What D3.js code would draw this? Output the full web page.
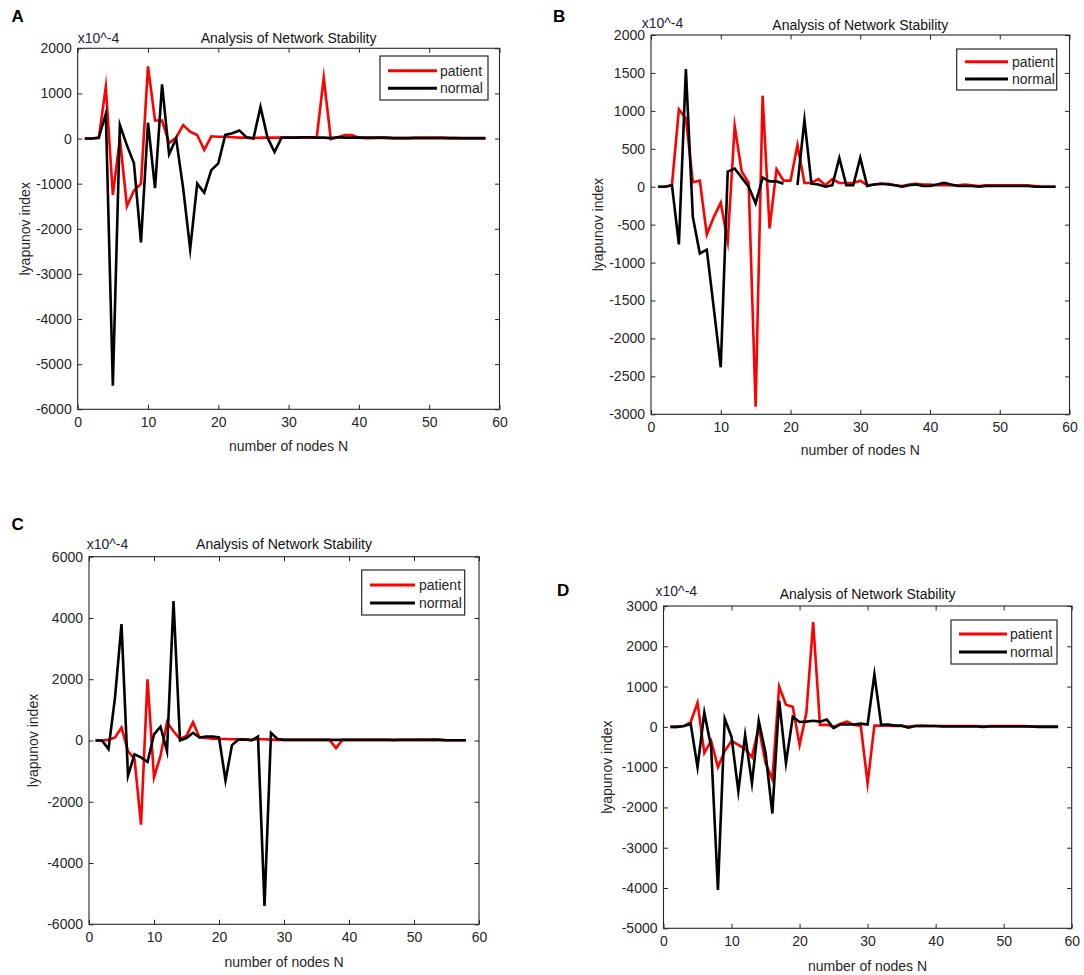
<!DOCTYPE html>
<html>
<head>
<meta charset="utf-8">
<script src="https://cdn.jsdelivr.net/npm/d3@7"></script>
<style>
  html, body { margin: 0; padding: 0; background: #fff; }
  text { font-family: "Liberation Sans", Arial, Helvetica, sans-serif; }
</style>
</head>
<body>
<svg id="chart" width="1084" height="975"></svg>
<script>
// ---------- data ----------
const nodes = [1,2,3,4,5,6,7,8,9,10,11,12,13,14,15,16,17,18,19,20,21,22,23,24,25,26,27,28,29,30,
  31,32,33,34,35,36,37,38,39,40,41,42,43,44,45,46,47,48,49,50,51,52,53,54,55,56,57,58];

const seriesNames = ["patient", "normal"];
const xTicks = [0, 10, 20, 30, 40, 50, 60];
const titleText = "Analysis of Network Stability";
const xLabelText = "number of nodes N";
const yLabelText = "lyapunov index";
const exponentText = "x10^-4";

// Panel A
const aPatient = [0,0,10,1150,-1250,0,-1500,-1150,-1000,1600, 400,400,-100,20,300,150,80,-250,50,40,
  40,30,20,20,10,20,20,20,20,20, 20,20,20,20,1350,-10,30,80,80,20, 10,10,20,10,10,10,10,20,20,20,
  20,20,10,10,0,0,0,0];
const aNormal = [0,0,20,550,-5480,300,-150,-550,-2300,350, -1100,1200,-350,0,-1100,-2450,-1000,-1200,-700,-550,
  80,120,180,30,0,700,20,-300,20,20, 20,30,30,20,20,10,30,20,20,20, 20,20,20,20,10,10,10,10,10,10,
  10,10,10,10,10,10,10,10];
const aYTicks = [-6000,-5000,-4000,-3000,-2000,-1000,0,1000,2000];

// Panel B
const bPatient = [0,0,20,1020,900,60,80,-630,-400,-210, -720,800,200,50,-2900,1200,-550,230,80,80,
  550,50,50,100,20,100,50,50,50,80, 20,30,40,40,20,10,30,40,30,30, 20,20,20,20,30,20,10,20,20,20,
  20,20,20,20,10,0,0,0];
const bNormal = [0,0,20,-760,1550,-400,-880,-830,-1600,-2380, 200,240,120,0,-220,120,70,70,40,null,
  20,880,40,30,0,20,380,20,20,380, 10,30,40,30,20,0,20,30,10,10, 30,50,30,10,10,10,0,10,10,10,
  10,10,10,10,0,0,0,0];
const bYTicks = [-3000,-2500,-2000,-1500,-1000,-500,0,500,1000,1500,2000];

// Panel C
const cPatient = [0,0,20,100,420,-350,-600,-2750,2000,-1200, -500,600,300,50,150,600,100,80,60,50,
  50,40,40,40,30,40,40,30,20,20, 20,20,20,20,20,20,20,-250,20,20, 20,20,20,20,20,20,10,20,20,20,
  30,20,20,20,10,10,10,10];
const cNormal = [0,0,-280,1400,3800,-1150,-450,-550,-700,200, 450,-350,4550,0,80,250,100,130,130,100,
  -1300,-150,30,30,0,130,-5400,250,50,20, 20,20,20,20,20,20,20,20,20,20, 20,20,20,20,20,20,20,20,20,20,
  20,20,30,20,10,10,10,10];
const cYTicks = [-6000,-4000,-2000,0,2000,4000,6000];

// Panel D
const dPatient = [0,0,20,120,600,-650,-350,-1000,-600,-350, -450,-550,-750,0,-900,-1300,1000,550,500,-450,
  350,2600,50,50,0,80,130,50,20,-1400, 30,30,30,20,20,10,20,30,20,20, 20,20,20,20,20,20,10,20,20,20,
  20,20,20,10,10,10,10,10];
const dNormal = [0,0,20,70,-1000,350,-500,-4050,200,-250, -1600,-200,-1400,150,-650,-2150,650,-900,250,120,
  130,150,130,180,-30,60,60,60,80,60, 1300,50,60,30,30,-20,20,20,20,20, 10,10,10,10,10,10,0,10,10,10,
  10,10,10,10,0,0,0,0];
const dYTicks = [-5000,-4000,-3000,-2000,-1000,0,1000,2000,3000];

// ---------- layout ----------
const panels = [
  { letter: "A", patient: aPatient, normal: aNormal, yTicks: aYTicks,
    box: {l: 77.7, r: 499.5, t: 48.3, b: 409.3},
    letterPos: [11.5, 21.7], titleY: 37.7, expX: 77.7, expY: 37.7, yLabelX: 25, xLabelY: 446,
    legend: {x: 380, y: 56, w: 108, h: 44, l1: 388, l2: 437, tx: 440, y1: 70.7, y2: 88.3} },
  { letter: "B", patient: bPatient, normal: bNormal, yTicks: bYTicks,
    box: {l: 651, r: 1069.5, t: 35, b: 414.3},
    letterPos: [553, 21.7], titleY: 25, expX: 641.7, expY: 23, yLabelX: 598, xLabelY: 450,
    legend: {x: 956.7, y: 49, w: 100, h: 41, l1: 965, l2: 1008, tx: 1012, y1: 61.7, y2: 79} },
  { letter: "C", patient: cPatient, normal: cNormal, yTicks: cYTicks,
    box: {l: 89, r: 479, t: 556.7, b: 924.3},
    letterPos: [11.5, 530], titleY: 544.3, expX: 86.7, expY: 544, yLabelX: 33, xLabelY: 962.3,
    legend: {x: 361.7, y: 570, w: 103, h: 45, l1: 370, l2: 415, tx: 419, y1: 585, y2: 603} },
  { letter: "D", patient: dPatient, normal: dNormal, yTicks: dYTicks,
    box: {l: 663.5, r: 1071.7, t: 606, b: 928.3},
    letterPos: [557, 596], titleY: 594.3, expX: 655.5, expY: 591, yLabelX: 606.7, xLabelY: 966,
    legend: {x: 951, y: 620, w: 106, h: 44, l1: 959, l2: 1007, tx: 1010, y1: 634, y2: 652} }
];

const colors = { patient: "#ff0000", normal: "#000000" };
const axisColor = "#262626";
const svg = d3.select("#chart");
const plainNum = d => String(d);   // hyphen-minus like the original

panels.forEach(p => {
  const g = svg.append("g");
  const B = p.box;
  const x = d3.scaleLinear().domain([xTicks[0], xTicks[xTicks.length - 1]]).range([B.l, B.r]);
  const yExtent = d3.extent(p.yTicks);
  const y = d3.scaleLinear().domain(yExtent).range([B.b, B.t]);
  const tickLen = 4.5;

  const xAxis = d3.axisBottom(x).tickValues(xTicks).tickSizeInner(-tickLen).tickSizeOuter(0).tickPadding(10)
    .tickFormat(plainNum);
  const gx = g.append("g").attr("transform", `translate(0,${B.b})`).call(xAxis);
  const gxt = g.append("g").attr("transform", `translate(0,${B.t})`)
    .call(d3.axisTop(x).tickValues(xTicks).tickSizeInner(-tickLen).tickSizeOuter(0).tickFormat(""));
  const yAxis = d3.axisLeft(y).tickValues(p.yTicks).tickSizeInner(-tickLen).tickSizeOuter(0).tickPadding(6)
    .tickFormat(plainNum);
  const gy = g.append("g").attr("transform", `translate(${B.l},0)`).call(yAxis);
  const gyr = g.append("g").attr("transform", `translate(${B.r},0)`)
    .call(d3.axisRight(y).tickValues(p.yTicks).tickSizeInner(-tickLen).tickSizeOuter(0).tickFormat(""));

  [gx, gxt, gy, gyr].forEach(a => {
    a.select(".domain").remove();
    a.selectAll(".tick line").attr("stroke", axisColor).attr("stroke-width", 1);
    a.selectAll(".tick text").attr("fill", axisColor).attr("font-size", 14)
      .attr("font-family", '"Liberation Sans", Arial, sans-serif');
  });
  gx.selectAll(".tick text").attr("dy", "0.55em");

  const lineGen = d3.line()
    .defined(d => d.v !== null)
    .x(d => x(d.n))
    .y(d => y(d.v));

  seriesNames.forEach(name => {
    const vals = p[name];
    const pts = nodes.map((n, i) => ({ n: n, v: vals[i] }));
    g.append("path")
      .datum(pts)
      .attr("d", lineGen)
      .attr("fill", "none")
      .attr("stroke", colors[name])
      .attr("stroke-width", 2.6)
      .attr("stroke-linejoin", "miter")
      .attr("stroke-miterlimit", 10);
  });

  g.append("rect")
    .attr("x", B.l).attr("y", B.t)
    .attr("width", B.r - B.l).attr("height", B.b - B.t)
    .attr("fill", "none").attr("stroke", axisColor).attr("stroke-width", 1.1);

  g.append("text")
    .attr("x", (B.l + B.r) / 2).attr("y", p.titleY)
    .attr("dy", "0.35em")
    .attr("text-anchor", "middle")
    .attr("font-size", 14).attr("fill", "#111")
    .text(titleText);

  g.append("text")
    .attr("x", p.expX).attr("y", p.expY)
    .attr("dy", "0.35em")
    .attr("font-size", 14).attr("fill", "#1a2440")
    .text(exponentText);

  g.append("text")
    .attr("x", (B.l + B.r) / 2).attr("y", p.xLabelY)
    .attr("dy", "0.35em")
    .attr("text-anchor", "middle")
    .attr("font-size", 14).attr("fill", axisColor)
    .text(xLabelText);

  g.append("text")
    .attr("transform", `translate(${p.yLabelX},${(B.t + B.b) / 2}) rotate(-90)`)
    .attr("dy", "0.35em")
    .attr("text-anchor", "middle")
    .attr("font-size", 14).attr("fill", axisColor)
    .text(yLabelText);

  g.append("text")
    .attr("x", p.letterPos[0]).attr("y", p.letterPos[1])
    .attr("font-size", 17).attr("font-weight", "bold").attr("fill", "#000")
    .text(p.letter);

  const L = p.legend;
  const lg = g.append("g");
  lg.append("rect")
    .attr("x", L.x).attr("y", L.y).attr("width", L.w).attr("height", L.h)
    .attr("fill", "#fff").attr("stroke", axisColor).attr("stroke-width", 1.2);
  seriesNames.forEach((name, i) => {
    const yy = i === 0 ? L.y1 : L.y2;
    lg.append("line")
      .attr("x1", L.l1).attr("x2", L.l2).attr("y1", yy).attr("y2", yy)
      .attr("stroke", colors[name]).attr("stroke-width", 3);
    lg.append("text")
      .attr("x", L.tx).attr("y", yy).attr("dy", "0.35em")
      .attr("font-size", 14).attr("fill", axisColor)
      .text(name);
  });
});
</script>
</body>
</html>
